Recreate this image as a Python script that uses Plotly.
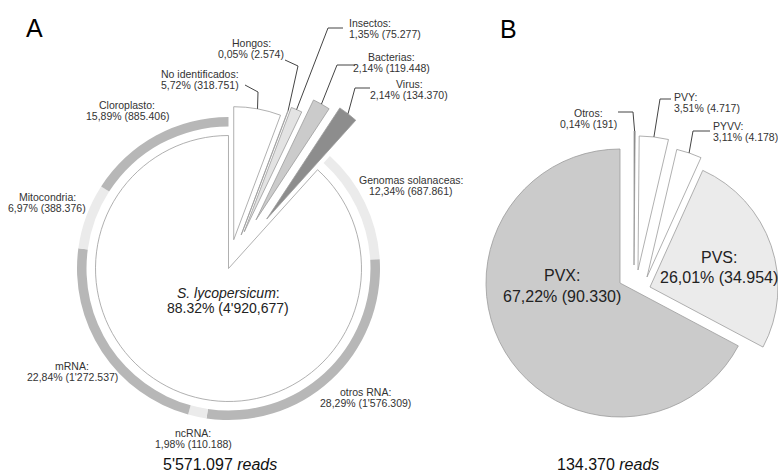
import math
import plotly.graph_objects as go

W, H = 778, 474
FONT = "Liberation Sans, Arial, sans-serif"

# ---------------- Panel A: origin of the reads ----------------
a_labels = ["No identificados", "Hongos", "Insectos", "Bacterias", "Virus", "S. lycopersicum"]
a_reads = [318751, 2574, 75277, 119448, 134370, 4920677]
a_pct_text = ["5,72%", "0,05%", "1,35%", "2,14%", "2,14%", "88.32%"]
a_count_text = ["318.751", "2.574", "75.277", "119.448", "134.370", "4'920,677"]
a_total_text = "5'571.097"

# breakdown of the S. lycopersicum reads (outer ring)
ring_labels = ["Genomas solanaceas", "otros RNA", "ncRNA", "mRNA", "Mitocondria", "Cloroplasto"]
ring_reads = [687861, 1576309, 110188, 1272537, 388376, 885406]
ring_pct_text = ["12,34%", "28,29%", "1,98%", "22,84%", "6,97%", "15,89%"]
ring_count_text = ["687.861", "1'576.309", "110.188", "1'272.537", "388.376", "885.406"]

# ---------------- Panel B: viral reads ----------------
b_labels = ["Otros", "PVY", "PYVV", "PVS", "PVX"]
b_reads = [191, 4717, 4178, 34954, 90330]
b_pct_text = ["0,14%", "3,51%", "3,11%", "26,01%", "67,22%"]
b_count_text = ["191", "4.717", "4.178", "34.954", "90.330"]
b_total_text = "134.370"

# ---------------- styling ----------------
a_colors = ["#ffffff", "#f2f2f2", "#e3e3e3", "#cbcbcb", "#8d8d8d", "#ffffff"]
a_pull = [0.22, 0.27, 0.30, 0.42, 0.47, 0.0]
ring_colors = ["#ebebeb", "#b7b7b7", "#ebebeb", "#b7b7b7", "#ebebeb", "#b7b7b7"]
b_colors = ["#7a7a7a", "#ffffff", "#ffffff", "#ebebeb", "#cbcbcb"]
EDGE = "#9c9c9c"

A_C = (228.5, 268.5)   # pie centre (px)
A_R = 133              # pie radius (px)
RING_OUT, RING_IN = 151.5, 142

# each virus slice is drawn as its own pie so it can be shifted freely
B_VERTEX = [(634, 265), (638, 270), (647, 277), (650, 287), (620, 283)]
B_R = [134, 134, 131, 128, 134]


def dom(cx, cy, half):
    x0, x1 = (cx - half) / W, (cx + half) / W
    y0, y1 = 1 - (cy + half) / H, 1 - (cy - half) / H
    return dict(x=[max(0, x0), min(1, x1)], y=[max(0, y0), min(1, y1)])


def mid_angle(values, i):
    tot = sum(values)
    return (sum(values[:i]) + values[i] / 2) / tot * 2 * math.pi


def unit(a):
    return math.sin(a), -math.cos(a)


def P(x, y):
    return x / W, 1 - y / H


fig = go.Figure()

# outer ring (first slice is the gap over the non-tomato reads)
gap = sum(a_reads[:-1])
fig.add_trace(go.Pie(
    values=[gap] + ring_reads,
    labels=["_gap"] + ring_labels,
    sort=False, direction="clockwise", rotation=0,
    hole=RING_IN / RING_OUT,
    marker=dict(colors=["rgba(0,0,0,0)"] + ring_colors, line=dict(width=0)),
    textinfo="none", hoverinfo="skip",
    domain=dom(A_C[0], A_C[1], RING_OUT),
))

# main pie of panel A
a_half = A_R * (1 + max(a_pull))
fig.add_trace(go.Pie(
    values=a_reads, labels=a_labels,
    sort=False, direction="clockwise", rotation=0,
    pull=a_pull,
    marker=dict(colors=a_colors, line=dict(color=EDGE, width=0.8)),
    textinfo="none", hoverinfo="skip",
    domain=dom(A_C[0], A_C[1], a_half),
))

# panel B slices
for k in range(len(b_reads)):
    cols = ["rgba(0,0,0,0)"] * len(b_reads)
    cols[k] = b_colors[k]
    widths = [0] * len(b_reads)
    widths[k] = 0.8
    fig.add_trace(go.Pie(
        values=b_reads, labels=b_labels,
        sort=False, direction="clockwise", rotation=0,
        marker=dict(colors=cols, line=dict(color=EDGE, width=widths)),
        textinfo="none", hoverinfo="skip",
        domain=dom(B_VERTEX[k][0], B_VERTEX[k][1], B_R[k]),
    ))

annotations = []
shapes = []


def label(x, y, lines, size=10.5, align="center", color="#333333", gap=11,
          valign="middle"):
    for i, t in enumerate(lines):
        px_, py_ = P(x, y + i * gap)
        annotations.append(dict(
            x=px_, y=py_, xref="paper", yref="paper", text=t, showarrow=False,
            xanchor=align, yanchor=valign, borderpad=0,
            font=dict(family=FONT, size=size, color=color),
        ))


def leader(p0, p1, tip):
    pts = [P(*p0), P(*p1), P(*tip)]
    path = "M {} {} L {} {} L {} {}".format(pts[0][0], pts[0][1], pts[1][0], pts[1][1], pts[2][0], pts[2][1])
    shapes.append(dict(type="path", xref="paper", yref="paper", path=path,
                       line=dict(color="#444444", width=1)))


# slice tips for leader lines in panel A
a_tips = []
for i in range(len(a_reads)):
    ux, uy = unit(mid_angle(a_reads, i))
    vx = A_C[0] + a_pull[i] * A_R * ux
    vy = A_C[1] + a_pull[i] * A_R * uy
    a_tips.append((vx + A_R * ux, vy + A_R * uy))

b_tips = []
for i in range(len(b_reads)):
    ux, uy = unit(mid_angle(b_reads, i))
    b_tips.append((B_VERTEX[i][0] + B_R[i] * ux, B_VERTEX[i][1] + B_R[i] * uy))


def two(name, pct, cnt):
    return [name + ":", "{} ({})".format(pct, cnt)]


# panel A small-slice labels
a_label_pos = [(240, 74, "right"), (251, 43, "center"), (348, 23, "left"),
               (391, 57, "center"), (409, 84, "center")]
for i, (x, y, al) in enumerate(a_label_pos):
    label(x, y, two(a_labels[i], a_pct_text[i], a_count_text[i]), align=al)

a_leaders = [((245, 85), (258, 92)), ((285, 60), (298, 66)), ((343, 28), (328, 28)),
             ((355, 65), (337, 65)), ((370, 88), (355, 88))]
for i, (p0, p1) in enumerate(a_leaders):
    leader(p0, p1, a_tips[i])

# centre label of panel A
label(228, 293, ["<i>S. lycopersicum</i>:", "{} ({})".format(a_pct_text[5], a_count_text[5])],
      size=14, color="#222222", gap=15)

# ring labels
ring_pos = [(411, 180), (365, 392), (193, 433), (72, 366), (47, 197), (127, 105)]
for i, (x, y) in enumerate(ring_pos):
    label(x, y, two(ring_labels[i], ring_pct_text[i], ring_count_text[i]))

# panel B labels
label(588, 113, two(b_labels[0], b_pct_text[0], b_count_text[0]))
label(673, 97, two(b_labels[1], b_pct_text[1], b_count_text[1]), align="left")
label(712, 126, two(b_labels[2], b_pct_text[2], b_count_text[2]), align="left")
label(719, 257, two(b_labels[3], b_pct_text[3], b_count_text[3]), size=16, color="#222222", gap=20.5)
label(562, 275, two(b_labels[4], b_pct_text[4], b_count_text[4]), size=16, color="#222222", gap=21)

b_leaders = [((618, 112), (633, 112)), ((671, 99), (660, 99)), ((710, 131), (693, 131))]
for i, (p0, p1) in enumerate(b_leaders):
    leader(p0, p1, b_tips[i])

# totals and panel letters
label(220, 473.5, [a_total_text + " <i>reads</i>"], size=16, color="#111111", valign="bottom")
label(608, 473.5, [b_total_text + " <i>reads</i>"], size=16, color="#111111", valign="bottom")
label(34, 28, ["A"], size=25, color="#000000")
label(508, 29, ["B"], size=25, color="#000000")

fig.update_layout(
    width=W, height=H,
    margin=dict(l=0, r=0, t=0, b=0),
    paper_bgcolor="white", plot_bgcolor="white",
    showlegend=False,
    annotations=annotations, shapes=shapes,
)

fig.write_html("out.html")
